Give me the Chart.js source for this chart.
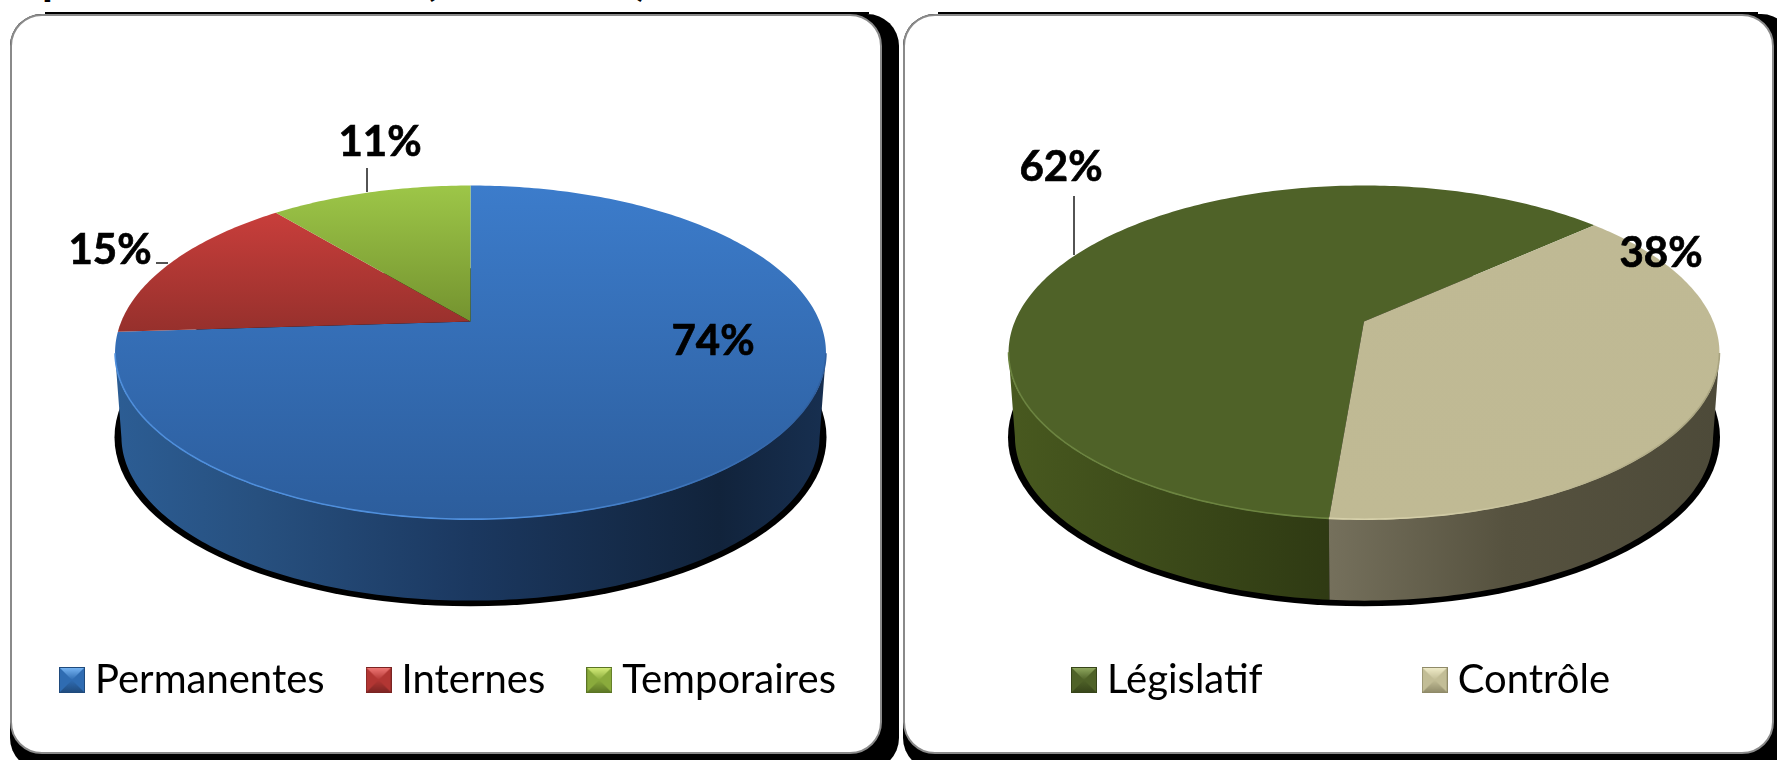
<!DOCTYPE html>
<html lang="fr">
<head>
<meta charset="utf-8">
<title>Commissions</title>
<script src="https://cdn.jsdelivr.net/npm/chart.js@4"></script>
<style>
	html, body { margin: 0; padding: 0; background: #fff; width: 1777px; height: 760px; overflow: hidden; }
	.shadow { position: absolute; background: #000; border-radius: 32px; }
	.panel { position: absolute; top: 14px; height: 736px; background: #fff; border: 2px solid #8a8a8a; border-radius: 32px; }
	.bar { position: absolute; top: 12px; height: 2px; background: #000; }
	.cut { position: absolute; top: -44px; font: bold 44px/44px Lato, sans-serif; color: #000; }
	canvas { position: absolute; top: 16px; }
</style>
</head>
<body>
	<span class="cut" style="left:42px">p</span>
	<span class="cut" style="left:424px">(</span>
	<span class="cut" style="left:636px">)</span>

	<div class="shadow" style="left:10px;top:14px;width:889px;height:756px"></div>
	<div class="bar" style="left:45px;width:824px"></div>
	<div class="panel" style="left:10px;width:868px"></div>

	<div class="shadow" style="left:903px;top:14px;width:890px;height:756px"></div>
	<div class="bar" style="left:938px;width:820px"></div>
	<div class="panel" style="left:903px;width:867px"></div>

	<canvas id="chart1" width="907" height="736" style="left:16px"></canvas>
	<canvas id="chart2" width="907" height="736" style="left:909px"></canvas>

<script>
// donnees
const typeLabels = ['Permanentes', 'Internes', 'Temporaires'];
const typeValues = [74, 15, 11];
const domainLabels = ['Législatif', 'Contrôle'];
const domainValues = [62, 38];

// perspective du disque (homographie du cercle unite)
const PIE_RADIUS = 349.2;
const PERSP = -0.1868;
const TILT = 0.4622;
const ELLIPSE_DY = 31.25;    // centre de l'ellipse sous le sommet
const DEPTH = 84;
const BOTTOM_SCALE = 0.982;

const project = (arc, angle) => {
	const c = Math.cos(angle), s = Math.sin(angle);
	const w = 1 + PERSP * s;
	return { x: arc.x + PIE_RADIUS * c / w, y: arc.y + PIE_RADIUS * TILT * s / w };
};

const lower = (arc, p) => ({
	x: arc.x + (p.x - arc.x) * BOTTOM_SCALE,
	y: arc.y + ELLIPSE_DY + DEPTH + (p.y - arc.y - ELLIPSE_DY) * 0.98
});

const sampleArc = (arc) => {
	const pts = [];
	const n = Math.ceil((arc.endAngle - arc.startAngle) * 60);
	for (let i = 0; i <= n; i++) {
		pts.push(arc.startAngle + (arc.endAngle - arc.startAngle) * i / n);
	}
	return pts;
};

// seulement la partie avant du bord
const frontAngles = (arc) => sampleArc(arc).filter(a => Math.sin(a) > -PERSP);

const pie3d = {
	id: 'pie3d',
	// on annule le dessin plat, les angles restent ceux du controleur pie
	beforeDatasetDraw(chart, args, opts) {
		const ctx = chart.ctx;
		const arcs = args.meta.data;
		const first = arcs[0];

		// ombre noire
		ctx.save();
		ctx.fillStyle = '#000';
		ctx.beginPath();
		ctx.ellipse(first.x, first.y + ELLIPSE_DY + DEPTH + 0.5, 356, 169, 0, 0, Math.PI * 2);
		ctx.fill();
		ctx.restore();

		// flancs
		arcs.forEach((arc, i) => {
			const angles = frontAngles(arc);
			if (angles.length < 2) return;
			const left = first.x - 355, right = first.x + 355;
			const grad = ctx.createLinearGradient(left, 0, right, 0);
			opts.sides[i].forEach(stop => grad.addColorStop(stop[0], stop[1]));
			const top = angles.map(a => project(arc, a));
			const bottom = top.map(p => lower(arc, p)).reverse();
			ctx.beginPath();
			top.concat(bottom).forEach((p, k) => k ? ctx.lineTo(p.x, p.y) : ctx.moveTo(p.x, p.y));
			ctx.closePath();
			ctx.fillStyle = grad;
			ctx.fill();
		});

		// dessus
		arcs.forEach((arc, i) => {
			const pts = sampleArc(arc).map(a => project(arc, a));
			const ys = pts.map(p => p.y).concat(arc.y);
			const grad = ctx.createLinearGradient(0, Math.min(...ys), 0, Math.max(...ys));
			grad.addColorStop(0, opts.tops[i][0]);
			grad.addColorStop(1, opts.tops[i][1]);
			ctx.beginPath();
			ctx.moveTo(arc.x, arc.y);
			pts.forEach(p => ctx.lineTo(p.x, p.y));
			ctx.closePath();
			ctx.fillStyle = grad;
			ctx.fill();
		});

		// liseré clair le long du bord avant
		arcs.forEach((arc, i) => {
			const angles = frontAngles(arc);
			if (angles.length < 2) return;
			const pts = angles.map(a => project(arc, a));
			const grad = ctx.createLinearGradient(first.x - 355, 0, first.x + 355, 0);
			grad.addColorStop(0, opts.rims[i]);
			grad.addColorStop(0.55, opts.rims[i]);
			grad.addColorStop(1, opts.rimEnd[i]);
			ctx.beginPath();
			pts.forEach((p, k) => k ? ctx.lineTo(p.x, p.y - 0.8) : ctx.moveTo(p.x, p.y - 0.8));
			ctx.lineWidth = 1.6;
			ctx.strokeStyle = grad;
			ctx.stroke();
		});
		return false;
	},
	afterDatasetsDraw(chart, args, opts) {
		const ctx = chart.ctx;
		const values = chart.data.datasets[0].data;
		ctx.save();
		ctx.strokeStyle = '#1a1a1a';
		ctx.lineWidth = 1.5;
		opts.leaders.forEach(l => {
			ctx.beginPath();
			ctx.moveTo(l[0], l[1]);
			ctx.lineTo(l[2], l[3]);
			ctx.stroke();
		});
		ctx.fillStyle = '#000';
		ctx.strokeStyle = '#000';
		ctx.lineWidth = 0.7;
		ctx.font = 'bold 42px Lato, sans-serif';
		ctx.textAlign = 'center';
		ctx.textBaseline = 'middle';
		values.forEach((v, i) => {
			ctx.fillText(v + '%', opts.labels[i][0], opts.labels[i][1]);
			ctx.strokeText(v + '%', opts.labels[i][0], opts.labels[i][1]);
		});
		ctx.restore();
	}
};

// carre de legende en relief
const swatch = function(base, light, dark) {
	const s = document.createElement('canvas');
	s.width = 26;
	s.height = 26;
	const c = s.getContext('2d');
	c.fillStyle = base;
	c.fillRect(0, 0, 26, 26);
	const tri = (pts, color) => {
		c.beginPath();
		pts.forEach((p, k) => k ? c.lineTo(p[0], p[1]) : c.moveTo(p[0], p[1]));
		c.closePath();
		c.fillStyle = color;
		c.fill();
	};
	const up = c.createLinearGradient(0, 0, 0, 13);
	up.addColorStop(0, light);
	up.addColorStop(1, base);
	tri([[0, 0], [26, 0], [13, 13]], up);
	const down = c.createLinearGradient(0, 13, 0, 26);
	down.addColorStop(0, base);
	down.addColorStop(1, dark);
	tri([[0, 26], [26, 26], [13, 13]], down);
	c.strokeStyle = dark;
	c.strokeRect(0.5, 0.5, 25, 25);
	return s;
};

const renderPie = function(canvasId, labels, values, settings) {
	new Chart(document.getElementById(canvasId), {
		type: 'pie',
		data: {
			labels: labels,
			datasets: [{ data: values, backgroundColor: settings.flat, borderWidth: 0 }]
		},
		options: {
			responsive: false,
			animation: false,
			rotation: settings.rotation,
			layout: { padding: { left: settings.padLeft, top: settings.padTop, bottom: settings.padBottom } },
			plugins: {
				tooltip: { enabled: false },
				legend: {
					position: 'bottom',
					align: 'start',
					maxHeight: 400,
					labels: {
						usePointStyle: true,
						boxWidth: 6,
						boxHeight: 6,
						padding: settings.legendGap,
						color: '#000',
						font: { family: 'Lato, sans-serif', size: 40 },
						generateLabels: chart => chart.data.labels.map((text, i) => ({
							text: text,
							index: i,
							fillStyle: settings.flat[i],
							strokeStyle: settings.flat[i],
							lineWidth: 0,
							pointStyle: settings.swatches[i]
						}))
					}
				},
				pie3d: settings
			}
		},
		plugins: [pie3d]
	});
};

renderPie('chart1', typeLabels, typeValues, {
	flat: ['#3570b8', '#b5383a', '#8cad3e'],
	rotation: 0,
	padLeft: 2,
	padTop: 18,
	padBottom: 42,
	legendGap: 51,
	tops: [['#3c7ccb', '#2c5d9c'], ['#c83e3b', '#96302c'], ['#9dc648', '#74932f']],
	sides: [
		[[0, '#2c5d94'], [0.2, '#27507f'], [0.5, '#1b3860'], [0.85, '#11233b'], [1, '#172f50']],
		[[0, '#7a2422'], [1, '#7a2422']],
		[[0, '#5a7424'], [1, '#5a7424']]
	],
	rims: ['#4f8fdc', '#c83e3b', '#9dc648'],
	rimEnd: ['#2f5f9f', '#96302c', '#74932f'],
	leaders: [[140, 247, 152, 247], [351, 152, 351, 176]],
	labels: [[697, 325], [94, 234], [364, 126]],
	swatches: [swatch('#2f6cb2', '#7ab8f6', '#1f4a7c'), swatch('#b23633', '#f27a78', '#7a2422'), swatch('#8aab3c', '#d8f07c', '#5a7424')]
});

renderPie('chart2', domainLabels, domainValues, {
	flat: ['#4f6228', '#bfba92'],
	rotation: 184.7,
	padLeft: 3,
	padTop: 136,
	padBottom: 42,
	legendGap: 169,
	tops: [['#4f6228', '#4f6228'], ['#bfb994', '#c0ba94']],
	sides: [
		[[0, '#48591f'], [0.45, '#2f3a13'], [1, '#2f3a13']],
		[[0, '#75705c'], [0.45, '#75705c'], [0.7, '#56523f'], [1, '#4d4a39']]
	],
	rims: ['#6c8440', '#d6d0aa'],
	rimEnd: ['#6c8440', '#a8a37f'],
	leaders: [[165, 180, 165, 239]],
	labels: [[152, 151], [752, 237]],
	swatches: [swatch('#4f6228', '#93ac62', '#364419'), swatch('#c2bd96', '#f2eecb', '#8f8a68')]
});
</script>
</body>
</html>
